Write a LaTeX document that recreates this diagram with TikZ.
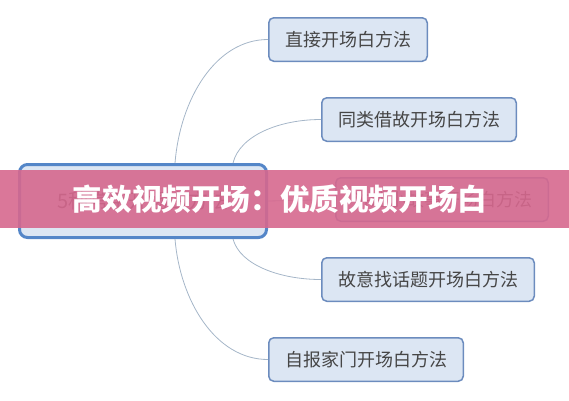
\documentclass[tikz,border=0pt]{standalone}
\usepackage{fontspec}
\usepackage{tikz}
\usetikzlibrary{calc, positioning}
\newfontfamily\cjk{Noto Sans CJK SC}
\newfontfamily\cjkheavy{Noto Sans CJK SC Black}

\definecolor{nodefill}{RGB}{220,230,243}
\definecolor{nodeborder}{RGB}{108,140,190}
\definecolor{hubborder}{RGB}{84,134,200}
\definecolor{nodetext}{RGB}{70,70,70}
\definecolor{linkcol}{RGB}{165,182,200}
\definecolor{bannerpink}{RGB}{214,104,142}

\tikzset{
  branch/.style={draw=nodeborder, fill=nodefill, line width=1.5pt, rounded corners=5pt,
    minimum height=43.5pt, inner xsep=16.25pt, anchor=west, text=nodetext,
    font=\cjk\fontsize{18}{18}\selectfont},
  hub/.style={draw=hubborder, fill=nodefill, line width=3pt, rounded corners=8pt,
    minimum width=247pt, minimum height=73pt, text=nodetext,
    font=\cjk\fontsize{20}{20}\selectfont},
  link/.style={draw=linkcol, line width=0.8pt},
}

\begin{document}
\begin{tikzpicture}[x=1pt, y=-1pt]

\useasboundingbox (0,0) rectangle (569,400);

% central topic
\node[hub] (hub) at (143,201) {5种常用开场白方法};

% branches
\node[branch] (direct) at (268,39.5) {直接开场白方法};
\node[branch] (similar) at (321,119.5) {同类借故开场白方法};
\node[branch] (story) at (335,199.5) {讲述小故事开场白方法};
\node[branch] (topic) at (321,279.5) {故意找话题开场白方法};
\node[branch] (intro) at (268,359.5) {自报家门开场白方法};

% connectors
\draw[link] ([xshift=32pt]hub.north) .. controls (180,100) and (215,39.5) .. (direct.west);
\draw[link] ([xshift=90pt]hub.north) .. controls (240,135) and (280,119.5) .. (similar.west);
\draw[link] (hub.east) -- (story.west);
\draw[link] ([xshift=90pt]hub.south) .. controls (240,265) and (280,279.5) .. (topic.west);
\draw[link] ([xshift=32pt]hub.south) .. controls (180,300) and (215,359.5) .. (intro.west);

% title banner
\fill[bannerpink, fill opacity=0.9] (0,170) rectangle (569,228);
\node[text=white, font=\cjkheavy\fontsize{29.6}{29.6}\selectfont] (title) at (280,199) {高效视频开场：优质视频开场白};

\end{tikzpicture}
\end{document}
